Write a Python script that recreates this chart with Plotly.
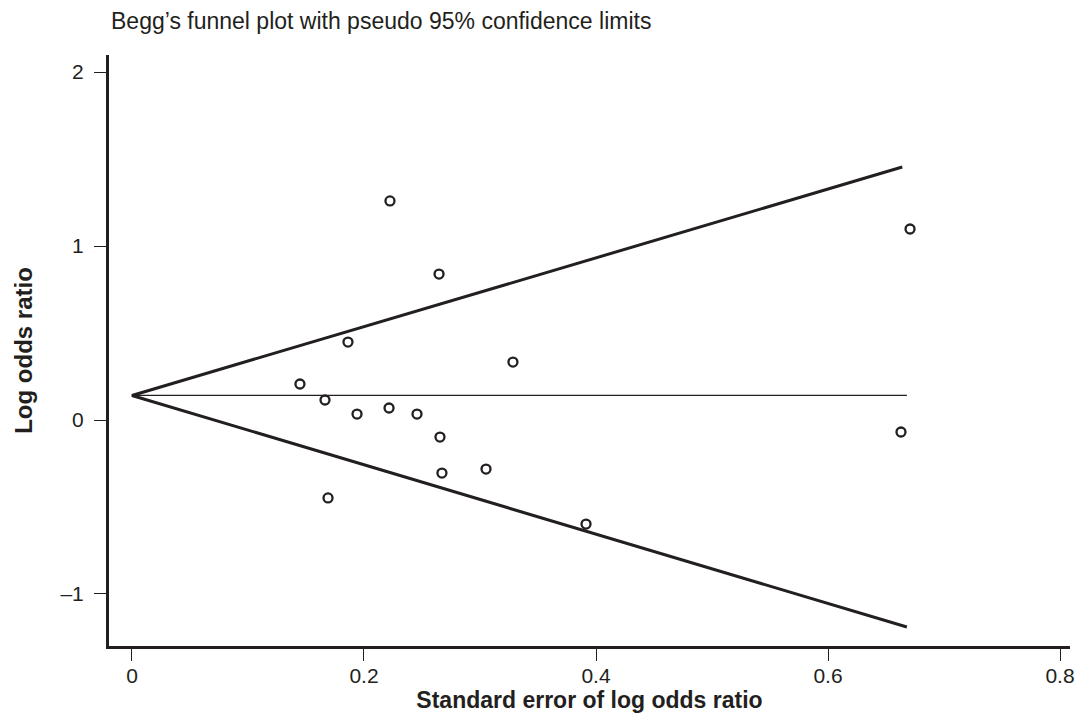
import plotly.graph_objects as go

# Study data: standard error of log odds ratio and log odds ratio
se = [0.2224, 0.2647, 0.1862, 0.1448, 0.1664, 0.1940, 0.2216, 0.2457,
      0.2655, 0.2672, 0.1690, 0.3284, 0.3052, 0.3914, 0.6707, 0.6629]
log_or = [1.259, 0.839, 0.448, 0.207, 0.115, 0.034, 0.069, 0.034,
          -0.098, -0.305, -0.448, 0.333, -0.282, -0.598, 1.098, -0.069]

# Pseudo 95% confidence limits
funnel_se = [0.664, 0.0, 0.668]
funnel_limits = [1.454, 0.141, -1.19]
center_se = [0.0, 0.668]
center_est = [0.141, 0.141]

x_ticks = [0, 0.2, 0.4, 0.6, 0.8]
x_ticktext = ["0", "0.2", "0.4", "0.6", "0.8"]
y_ticks = [-1, 0, 1, 2]
y_ticktext = ["\u20131", "0", "1", "2"]

INK = "#231f20"
FONT = "Liberation Sans, Arial, sans-serif"

fig = go.Figure()
fig.add_trace(go.Scatter(x=center_se, y=center_est, mode="lines",
                         line=dict(color=INK, width=1.3), hoverinfo="skip"))
fig.add_trace(go.Scatter(x=funnel_se, y=funnel_limits, mode="lines",
                         line=dict(color=INK, width=3), hoverinfo="skip"))
fig.add_trace(go.Scatter(x=se, y=log_or, mode="markers",
                         marker=dict(symbol="circle-open", size=9, color=INK,
                                     line=dict(width=2.3, color=INK))))

fig.update_layout(
    width=1075, height=713,
    margin=dict(l=109, r=5, t=55, b=67),
    paper_bgcolor="white", plot_bgcolor="white",
    showlegend=False,
    font=dict(family=FONT, color=INK, size=21),
    title=dict(text="Begg\u2019s funnel plot with pseudo 95% confidence limits",
               x=111 / 1075, xanchor="left", xref="container",
               y=1 - 21 / 713, yanchor="middle", yref="container",
               font=dict(family=FONT, size=23, color=INK), pad=dict(l=0, r=0, t=0, b=0)),
    xaxis=dict(range=[-0.0198, 0.8086], tickvals=x_ticks, ticktext=x_ticktext,
               automargin=False,
               showgrid=False, zeroline=False, showline=True, linewidth=3, linecolor=INK,
               ticks="outside", ticklen=12, tickwidth=1.3, tickcolor=INK,
               ticklabeloverflow="allow", ticklabelstandoff=-3,
               tickfont=dict(size=21, color=INK, family=FONT),
               title=dict(text="<b>Standard error of log odds ratio</b>",
                          font=dict(size=23, color=INK, family=FONT), standoff=2)),
    yaxis=dict(range=[-1.299, 2.098], tickvals=y_ticks, ticktext=y_ticktext,
               automargin=False,
               showgrid=False, zeroline=False, showline=True, linewidth=3, linecolor=INK,
               ticks="outside", ticklen=12, tickwidth=1.3, tickcolor=INK,
               tickfont=dict(size=21, color=INK, family=FONT),
               ticklabelstandoff=6,
               title=dict(text="<b>Log odds ratio</b>",
                          font=dict(size=24, color=INK, family=FONT), standoff=22)),
)

fig.write_html("out.html")
